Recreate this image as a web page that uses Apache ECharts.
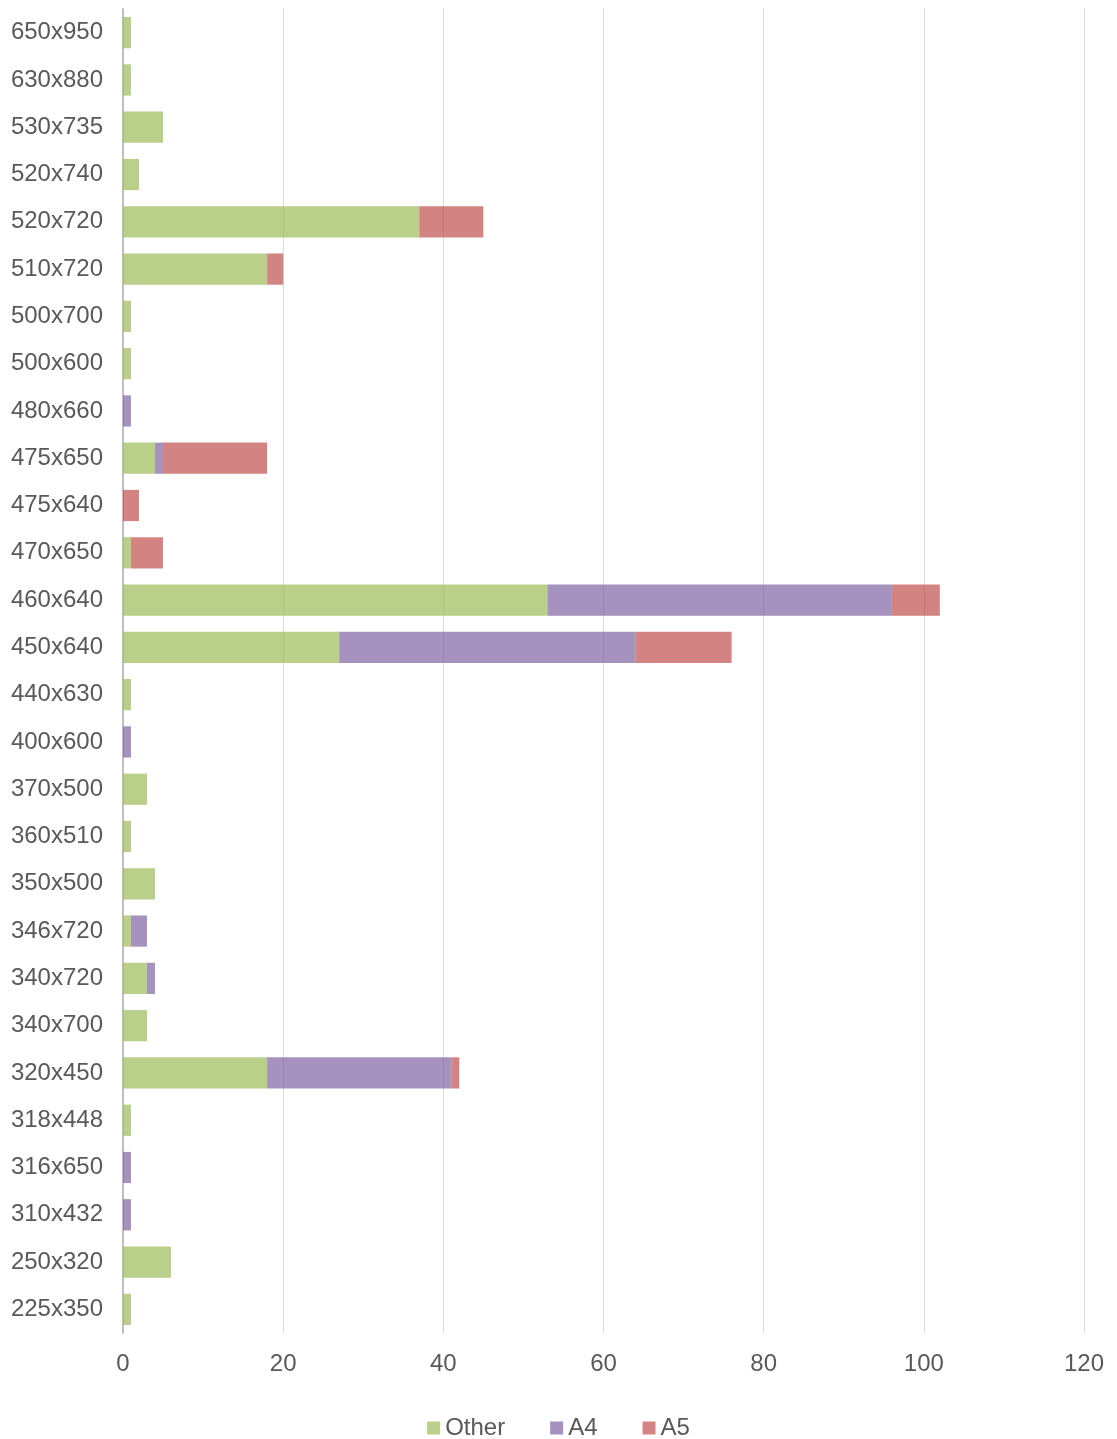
<!DOCTYPE html>
<html>
<head>
<meta charset="utf-8">
<script src="https://cdn.jsdelivr.net/npm/echarts@6/dist/echarts.min.js"></script>
<style>html,body{margin:0;padding:0;background:#fff}#c{width:1117px;height:1439px}</style>
</head>
<body>
<div id="c"></div>
<script>
// Categories listed bottom to top
const categories = ["225x350","250x320","310x432","316x650","318x448","320x450","340x700","340x720","346x720","350x500","360x510","370x500","400x600","440x630","450x640","460x640","470x650","475x640","475x650","480x660","500x600","500x700","510x720","520x720","520x740","530x735","630x880","650x950"];
const otherValues = [1,6,0,0,1,18,3,3,1,4,1,3,0,1,27,53,1,0,4,0,1,1,18,37,2,5,1,1];
const a4Values    = [0,0,1,1,0,23,0,1,2,0,0,0,1,0,37,43,0,0,1,1,0,0,0,0,0,0,0,0];
const a5Values    = [0,0,0,0,0,1,0,0,0,0,0,0,0,0,12,6,4,2,13,0,0,0,2,8,0,0,0,0];
const seriesNames = ["Other","A4","A5"];
const xTicks = {min:0, max:120, interval:20};

const colors = ['rgba(155,187,89,0.7)','rgba(128,100,162,0.7)','rgba(192,80,77,0.7)'];
const font = 'Liberation Sans, Arial, sans-serif';
const chart = echarts.init(document.getElementById('c'));
const mk = (name, data, i) => ({
  name, type:'bar', stack:'total', data,
  barCategoryGap:'34%',
  itemStyle:{color:colors[i]},
  emphasis:{disabled:true}
});
chart.setOption({
  animation:false,
  color:colors,
  grid:{left:123,right:33,top:9,bottom:106,containLabel:false},
  legend:{
    top:1411, left:'center',
    icon:'rect', itemWidth:13, itemHeight:13, itemGap:45,
    textStyle:{color:'#595959',fontSize:24,fontFamily:font},
    data:seriesNames
  },
  xAxis:{
    type:'value', min:xTicks.min, max:xTicks.max, interval:xTicks.interval,
    axisLine:{show:false}, axisTick:{show:false},
    axisLabel:{color:'#595959',fontSize:24,fontFamily:font,margin:19},
    splitLine:{lineStyle:{color:'#d9d9d9',width:1}}
  },
  yAxis:{
    type:'category', data:categories,
    axisLine:{lineStyle:{color:'#bfbfbf',width:2}},
    axisTick:{show:false},
    axisLabel:{color:'#595959',fontSize:24,fontFamily:font,margin:20}
  },
  series:[mk(seriesNames[0],otherValues,0),mk(seriesNames[1],a4Values,1),mk(seriesNames[2],a5Values,2)]
});
</script>
</body>
</html>
